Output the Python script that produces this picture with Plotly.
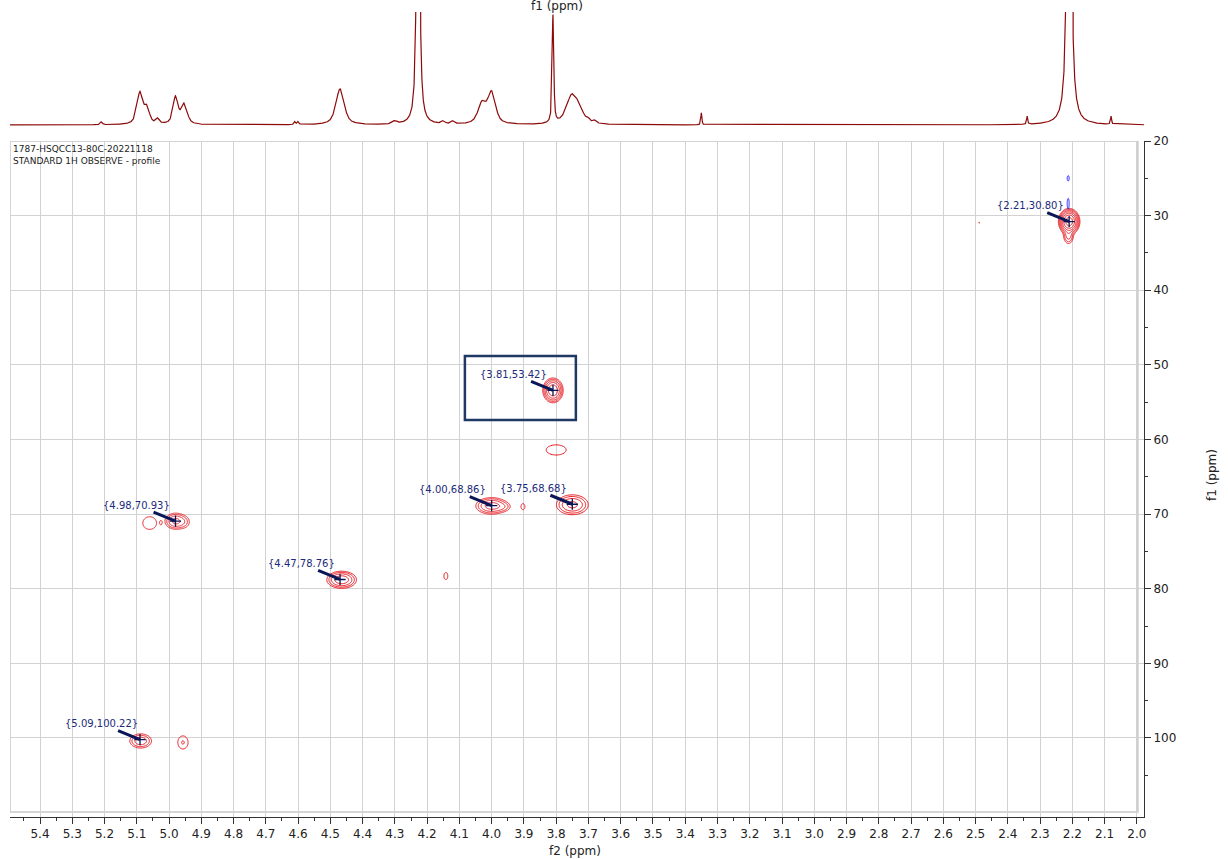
import numpy as np
import plotly.graph_objects as go

# ---------------- data ----------------
# 1D proton projection (f2): peak position (ppm), height (display units), half-width (ppm)
h1_ppm    = [5.21, 5.09, 5.068, 5.035, 4.98, 4.953, 4.61, 4.60, 4.47, 4.30, 4.228, 4.15, 4.12,
             4.03, 4.00, 3.81, 3.752, 3.728, 3.70, 3.68, 3.35, 2.34, 2.21, 2.08]
h1_height = [3, 32, 15, 5, 27, 20, 3, 3, 36, 3, 2500, 3, 3,
             20, 31, 108, 28, 11, 3, 3, 12, 8, 3500, 8]
h1_width  = [0.004, 0.011, 0.009, 0.006, 0.009, 0.011, 0.003, 0.003, 0.015, 0.008, 0.002, 0.006, 0.006,
             0.015, 0.014, 0.003, 0.02, 0.015, 0.006, 0.006, 0.002, 0.002, 0.0025, 0.002]

# HSQC cross peaks, positive phase (red): f2 ppm, f1 ppm, widths, relative intensity
pos_f2  = [2.21, 2.212, 2.489, 3.81, 3.80, 4.00, 3.965, 3.903, 3.75,
           4.98, 4.955, 5.06, 5.025, 4.465, 4.142, 5.088, 4.957]
pos_f1  = [30.8, 32.6, 30.95, 53.42, 61.4, 68.9, 69.0, 69.0, 68.75,
           70.95, 71.05, 71.2, 71.15, 78.8, 78.3, 100.4, 100.6]
pos_sx  = [0.011, 0.008, 0.003, 0.012, 0.03, 0.022, 0.014, 0.009, 0.023,
           0.015, 0.012, 0.018, 0.004, 0.02, 0.009, 0.017, 0.013]
pos_sy  = [0.58, 0.6, 0.2, 0.63, 0.66, 0.5, 0.35, 0.6, 0.62,
           0.5, 0.5, 0.72, 0.35, 0.5, 0.7, 0.48, 0.72]
pos_amp = [100, 6, 1.05, 32, 1.7, 12, 2.2, 1.25, 10,
           10, 2.5, 2.0, 0.9, 14, 1.25, 7, 2.1]

# negative phase (blue)
neg_f2  = [2.213, 2.213]
neg_f1  = [25.0, 28.4]
neg_sx  = [0.0033, 0.0033]
neg_sy  = [0.39, 0.78]
neg_amp = [1.5, 1.5]

# labelled peaks
lab_f2 = [2.21, 3.81, 4.00, 3.75, 4.98, 4.47, 5.09]
lab_f1 = [30.80, 53.42, 68.86, 68.68, 70.93, 78.76, 100.22]

x_ticks = [round(5.4 - 0.1 * i, 1) for i in range(35)]
y_ticks = [20, 30, 40, 50, 60, 70, 80, 90, 100]
y_minor = [25, 35, 45, 55, 65, 75, 85, 95, 105]

XR = [5.493, 1.978]
YR = [110.59, 20]

RED = "#e8141c"
BLUE = "#1a1aff"
NAVY = "#1b2a7a"
DARK = "#0b1656"
FONT = "DejaVu Sans"


def field(X, Y, f2, f1, sx, sy, amp):
    Z = np.zeros_like(X)
    for a, b, c, d, e in zip(f2, f1, sx, sy, amp):
        Z += e * np.exp(-((X - a) ** 2 / (2 * c * c) + (Y - b) ** 2 / (2 * d * d)))
    return Z


def windows(f2, f1, sx, sy):
    boxes = [[a - 4 * c - 0.01, a + 4 * c + 0.01, b - 4 * d - 0.5, b + 4 * d + 0.5, c, d]
             for a, b, c, d in zip(f2, f1, sx, sy)]
    merged = True
    while merged:
        merged = False
        out = []
        for bx in boxes:
            for o in out:
                if bx[0] < o[1] and o[0] < bx[1] and bx[2] < o[3] and o[2] < bx[3]:
                    o[0] = min(o[0], bx[0]); o[1] = max(o[1], bx[1])
                    o[2] = min(o[2], bx[2]); o[3] = max(o[3], bx[3])
                    o[4] = min(o[4], bx[4]); o[5] = min(o[5], bx[5])
                    merged = True
                    break
            else:
                out.append(list(bx))
        boxes = out
    return boxes


def contour_traces(f2, f1, sx, sy, amp, color):
    traces = []
    for x0, x1, y0, y1, mx, my in windows(f2, f1, sx, sy):
        dx = max(mx / 8, 0.0003)
        dy = max(my / 8, 0.03)
        xs = np.arange(x0, x1 + dx, dx)
        ys = np.arange(y0, y1 + dy, dy)
        X, Y = np.meshgrid(xs, ys)
        Z = np.log2(np.maximum(field(X, Y, f2, f1, sx, sy, amp), 1e-3))
        traces.append(go.Contour(
            x=np.round(xs, 5), y=np.round(ys, 4), z=np.round(Z, 3),
            xaxis="x", yaxis="y",
            autocontour=False,
            contours=dict(start=0, end=8, size=1, coloring="lines"),
            colorscale=[[0, color], [1, color]],
            line=dict(width=1, smoothing=1),
            showscale=False, hoverinfo="skip",
        ))
    return traces


fig = go.Figure()

# 1D projection (pseudo-Voigt line shapes)
sx_grid = np.arange(XR[1], XR[0], 0.0004)
spec = np.zeros_like(sx_grid)
for p, h, w in zip(h1_ppm, h1_height, h1_width):
    lor = w * w / ((sx_grid - p) ** 2 + w * w)
    gau = np.exp(-np.log(2) * ((sx_grid - p) / w) ** 2)
    spec += h * (0.65 * lor + 0.35 * gau)
fig.add_trace(go.Scatter(x=np.round(sx_grid, 5), y=np.round(spec, 2), mode="lines",
                         line=dict(color="#8c0a0a", width=1.2),
                         xaxis="x2", yaxis="y2", hoverinfo="skip"))

for t in contour_traces(pos_f2, pos_f1, pos_sx, pos_sy, pos_amp, RED):
    fig.add_trace(t)
for t in contour_traces(neg_f2, neg_f1, neg_sx, neg_sy, neg_amp, BLUE):
    fig.add_trace(t)

# peak crosses
fig.add_trace(go.Scatter(x=lab_f2, y=lab_f1, mode="markers",
                         marker=dict(symbol="cross-thin", size=8,
                                     line=dict(color=DARK, width=1.3)),
                         xaxis="x", yaxis="y", hoverinfo="skip"))

annotations = []
for a, b in zip(lab_f2, lab_f1):
    annotations.append(dict(
        x=a, y=b, xref="x", yref="y", text="{%.2f,%.2f}" % (a, b),
        showarrow=True, ax=-39, ay=-16, arrowhead=0, arrowwidth=3,
        arrowcolor=DARK, font=dict(family=FONT, size=10, color=NAVY),
    ))

PW = 1228 - 10 - 84
PH = 817
annotations += [
    dict(x=1 / PW, y=(PH - 142) / PH, xref="paper", yref="paper", xanchor="left", yanchor="top",
         text="1787-HSQCC13-80C-20221118<br>STANDARD 1H OBSERVE - profile", showarrow=False,
         align="left", font=dict(family=FONT, size=9, color="#222")),
    dict(x=(557 - 10) / PW, y=(PH - 6) / PH, xref="paper", yref="paper", text="f1 (ppm)",
         xanchor="center", yanchor="middle",
         showarrow=False, font=dict(family=FONT, size=12, color="#222")),
    dict(x=(575 - 10) / PW, y=(PH - 851) / PH, xref="paper", yref="paper", text="f2 (ppm)",
         xanchor="center", yanchor="middle",
         showarrow=False, font=dict(family=FONT, size=12, color="#222")),
    dict(x=(1212 - 10) / PW, y=(PH - 475) / PH, xref="paper", yref="paper", text="f1 (ppm)",
         xanchor="center", yanchor="middle",
         textangle=-90, showarrow=False, font=dict(family=FONT, size=12, color="#222")),
]

shapes = [
    dict(type="rect", xref="x", yref="y", x0=XR[0], x1=1.997, y0=20, y1=109.92,
         line=dict(color="#c8c8c8", width=1.5), layer="below"),
    dict(type="rect", xref="x", yref="y", x0=4.083, x1=3.739, y0=48.8, y1=57.4,
         line=dict(color="#1f3864", width=2.5)),
]

fig.update_layout(
    width=1228, height=859,
    margin=dict(l=10, r=84, t=0, b=42, autoexpand=False),
    paper_bgcolor="white", plot_bgcolor="white",
    showlegend=False,
    font=dict(family=FONT, color="#222"),
    xaxis=dict(range=XR, domain=[0, 1], anchor="y", tickvals=x_ticks, tickformat=".1f",
               ticks="outside", ticklen=6, tickcolor="#333", showline=True, linecolor="#333",
               showgrid=True, gridcolor="#d2d2d2", gridwidth=1, zeroline=False,
               automargin=False,
               tickfont=dict(family=FONT, size=12, color="#222"),
               minor=dict(dtick=0.05, tick0=0, ticks="outside", ticklen=3, tickcolor="#333",
                          showgrid=False)),
    yaxis=dict(range=YR, domain=[0, (PH - 141) / PH], anchor="x", side="right",
               tickvals=y_ticks, ticks="outside", ticklen=6, tickcolor="#333",
               showline=True, linecolor="#333", showgrid=True, gridcolor="#d2d2d2",
               zeroline=False, automargin=False,
               tickfont=dict(family=FONT, size=12, color="#222"),
               minor=dict(tickvals=y_minor, ticks="outside", ticklen=3, tickcolor="#333",
                          showgrid=False)),
    xaxis2=dict(range=XR, domain=[0, 1], anchor="y2", visible=False, showgrid=False),
    yaxis2=dict(range=[-5, 113], domain=[(PH - 130) / PH, (PH - 12) / PH], anchor="x2",
                visible=False, showgrid=False),
    annotations=annotations,
    shapes=shapes,
)

fig.write_html("out.html")
